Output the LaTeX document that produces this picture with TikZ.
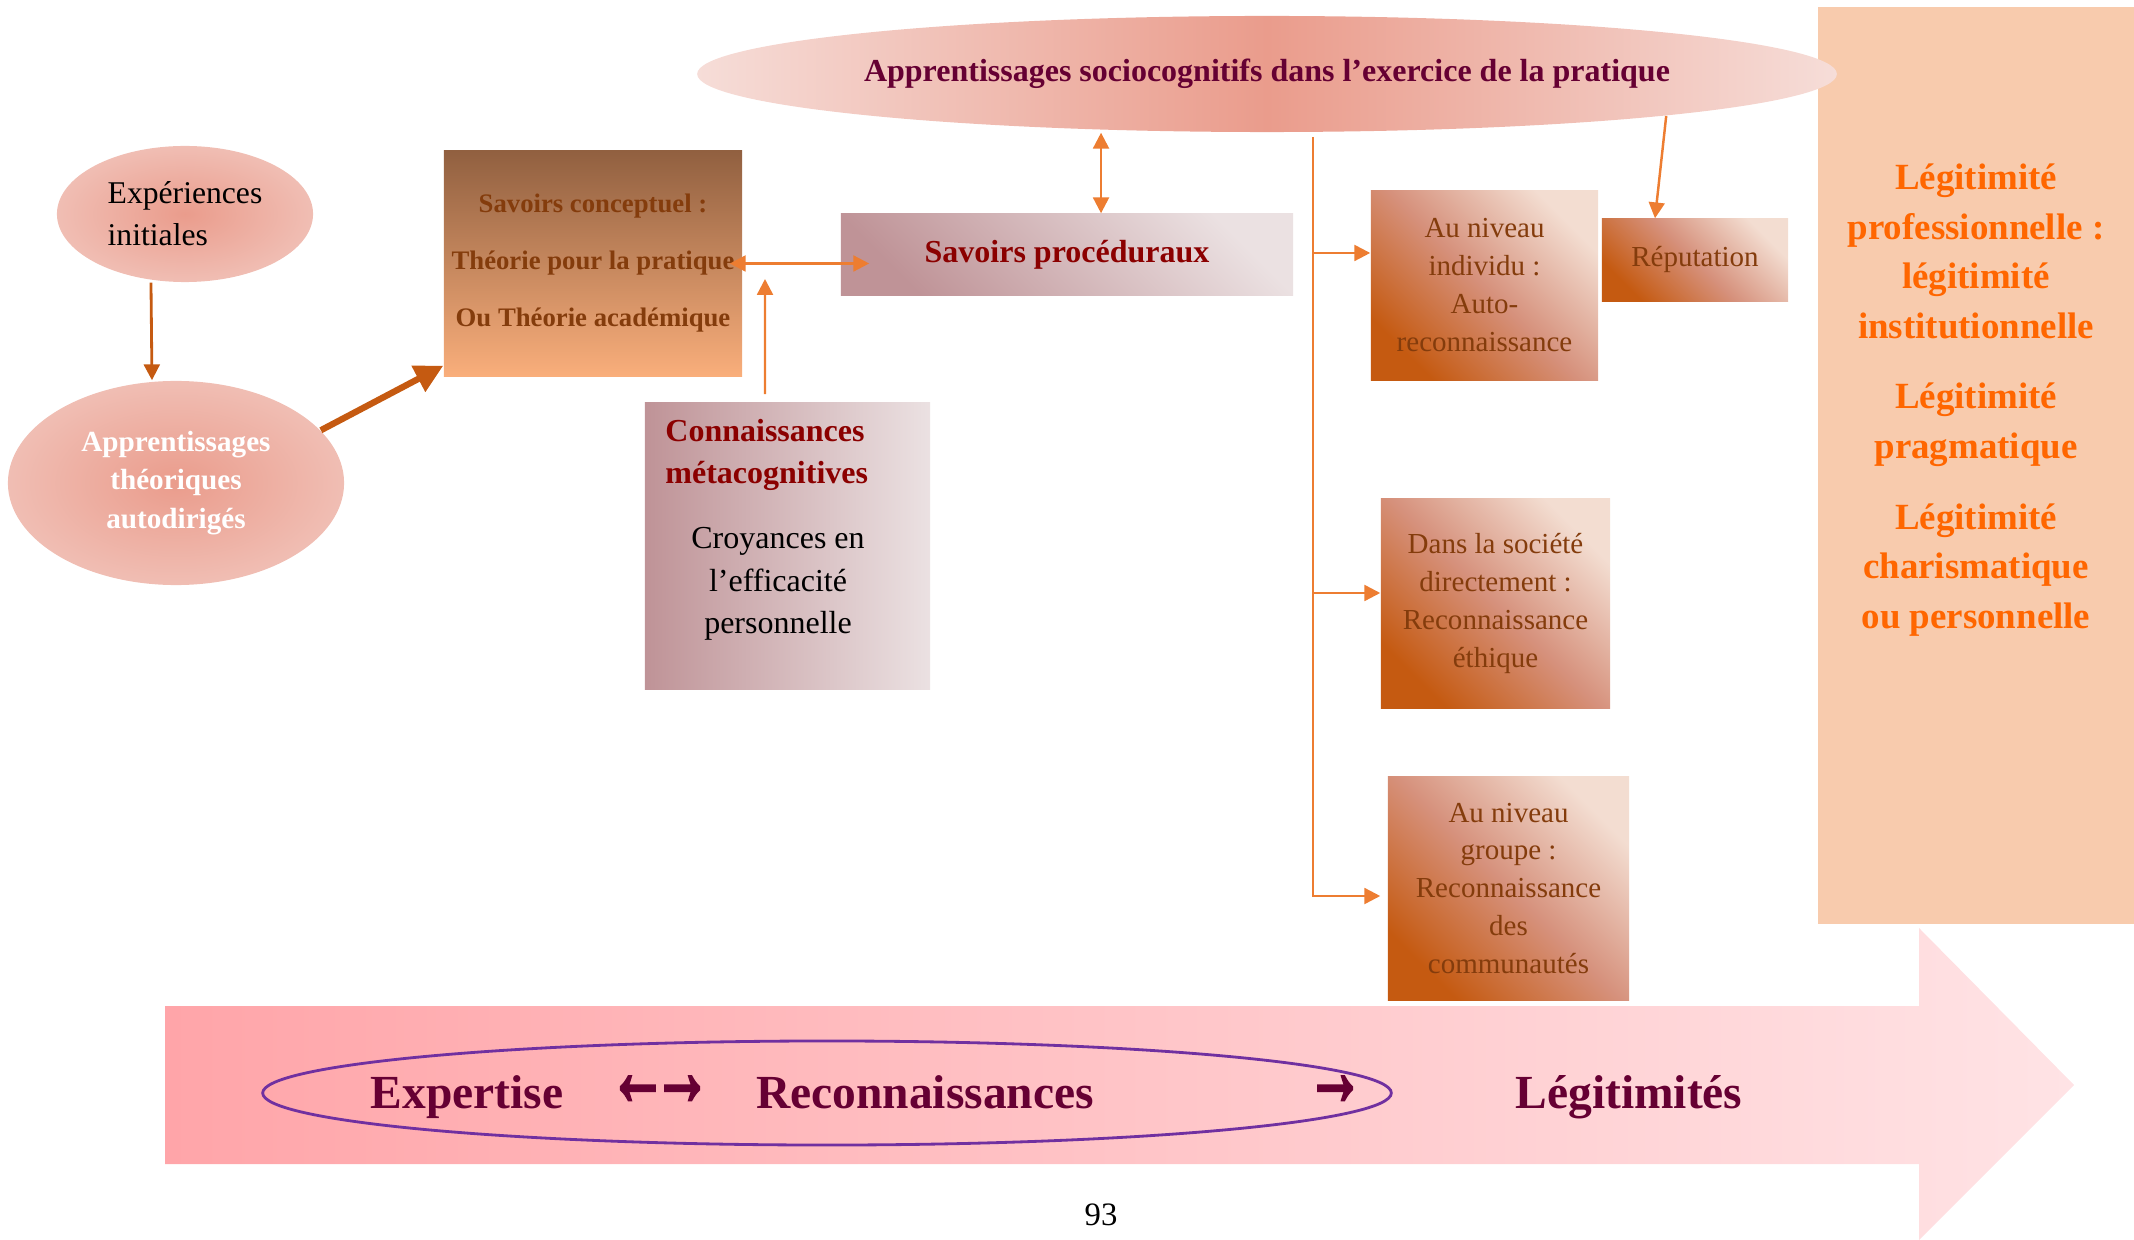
\documentclass[tikz,border=0pt]{standalone}
\usepackage{fontspec}
\setmainfont{Liberation Serif}
\newfontfamily\fleches{Liberation Serif}[FakeBold=4]
\usetikzlibrary{shapes.geometric,arrows.meta}
\definecolor{orangeline}{HTML}{ED7D31}
\definecolor{rust}{HTML}{C55A11}
\definecolor{brunfonce}{HTML}{843C0C}
\definecolor{rougefonce}{HTML}{8B0000}
\definecolor{bordeaux}{HTML}{660033}
\definecolor{orangevif}{HTML}{FF6600}
\definecolor{peche}{HTML}{F8CBAD}
\definecolor{saumon}{HTML}{EA9C8C}
\definecolor{saumonclair}{HTML}{F6DDD8}
\definecolor{violet}{HTML}{7030A0}
\definecolor{roseg}{HTML}{FFA5A9}
\definecolor{rosed}{HTML}{FFE3E5}
\definecolor{brunhaut}{HTML}{916040}
\definecolor{orangebas}{HTML}{F9AE7B}
\definecolor{mauvefonce}{HTML}{BF9397}
\definecolor{mauveclair}{HTML}{EBE1E2}
\definecolor{niveauclair}{HTML}{F3DDD1}
\definecolor{niveaumilieu}{HTML}{D6917C}
\pgfdeclareradialshading{bulleombre}{\pgfpoint{0bp}{0bp}}{color(0bp)=(saumon); color(48bp)=(saumonclair); color(50bp)=(saumonclair)}
\tikzset{
  bulle/.style={ellipse, shading=bulleombre, inner sep=0pt},
  niveau/.style={rectangle, bottom color=rust, top color=niveauclair, middle color=niveaumilieu,
    shading angle=-45, inner sep=0pt, align=center, text=brunfonce,
    font=\fontsize{8.25}{10.8}\selectfont},
  conn/.style={draw=orangeline, line width=0.7pt},
  grand/.style={anchor=base, text=bordeaux, font=\bfseries\fontsize{13.5}{16}\selectfont},
  fleche/.style={anchor=base, text=bordeaux, font=\fleches\fontsize{18}{20}\selectfont}
}

\begin{document}
\begin{tikzpicture}[x=0.01cm, y=-0.01cm, >={Triangle[length=4.5pt,width=4.5pt]}]
  \useasboundingbox (0,0) rectangle (2134,1240);
  % fleche du bas
  \shade[left color=roseg, right color=rosed]
    (165,1006) -- (1919,1006) -- (1919,928) -- (2074,1085) -- (1919,1240) -- (1919,1164) -- (165,1164) -- cycle;
  \draw[violet, line width=0.8pt] (827,1093) ellipse [x radius=5.64cm, y radius=0.52cm];
  \node[grand] (expertise) at (467,1108) {Expertise};
  \node[fleche] (allerretour) at (660,1104) {\scalebox{0.9}[1.5]{←\kern-4pt→}};
  \node[grand] (reco) at (925,1108) {Reconnaissances};
  \node[fleche] (versdroite) at (1335,1104) {\scalebox{0.9}[1.5]{→}};
  \node[grand] (legitimites) at (1629,1108) {Légitimités};

  \node[font=\fontsize{9.3}{11}\selectfont] (page) at (1101,1215) {93};

  \node[fill=peche, minimum width=3.16cm, minimum height=9.17cm, inner sep=0pt] (legit) at (1976,465.5) {};
  \node[align=center, text=orangevif, font=\bfseries\fontsize{10.5}{14.1}\selectfont] (legittxt) at (1976,400)
    {Légitimité\\professionnelle :\\légitimité\\institutionnelle\\[6pt]Légitimité\\pragmatique\\[6pt]Légitimité\\charismatique\\ou personnelle};

  \node[bulle, minimum width=2.56cm, minimum height=1.36cm, align=left, font=\fontsize{9}{12}\selectfont] (exp) at (185,214) {Expériences\\initiales};
  \node[bulle, minimum width=3.36cm, minimum height=2.04cm, align=center, text=white,
    font=\bfseries\fontsize{8.3}{11}\selectfont] (auto) at (176,483) {Apprentissages\\théoriques\\autodirigés};
  \node[rectangle, top color=brunhaut, bottom color=orangebas, minimum width=2.98cm, minimum height=2.25cm,
    inner sep=0pt, align=center, text=brunfonce, font=\bfseries\fontsize{7.6}{16.2}\selectfont] (concept) at (593,263.5)
    {Savoirs conceptuel :\\Théorie pour la pratique\\Ou Théorie académique};
  \node[rectangle, bottom color=mauvefonce, top color=mauveclair, shading angle=-45, minimum width=4.52cm,
    minimum height=0.81cm, inner sep=0pt, text=rougefonce, font=\bfseries\fontsize{9.1}{11}\selectfont] (proc) at (1067,254.5)
    {Savoirs procéduraux};
  \node[rectangle, left color=mauvefonce, right color=mauveclair, minimum width=2.85cm, minimum height=2.86cm,
    inner sep=0pt] (meta) at (787.5,546) {};
  \node[anchor=west, align=left, text=rougefonce, font=\bfseries\fontsize{9.1}{12}\selectfont] (metatitre) at (653,455)
    {Connaissances\\métacognitives};
  \node[align=center, font=\fontsize{9.1}{12}\selectfont] (metacroy) at (778,584) {Croyances en\\l’efficacité\\personnelle};

  \node[ellipse, left color=saumonclair, right color=saumonclair, middle color=saumon, minimum width=11.14cm,
    minimum height=1.16cm, inner sep=0pt, text=bordeaux, font=\bfseries\fontsize{9.1}{11}\selectfont] (sociocog) at (1267,74)
    {Apprentissages sociocognitifs dans l’exercice de la pratique};

  \node[niveau, minimum width=2.27cm, minimum height=1.89cm] (indiv) at (1484.5,285.5) {Au niveau\\individu :\\Auto-\\reconnaissance};
  \node[niveau, minimum width=1.86cm, minimum height=0.82cm] (reput) at (1695,260) {Réputation};
  \node[niveau, minimum width=2.29cm, minimum height=2.09cm] (societe) at (1495.5,603.5) {Dans la société\\directement :\\Reconnaissance\\éthique};
  \node[niveau, minimum width=2.41cm, minimum height=2.23cm] (groupe) at (1508.5,888.5) {Au niveau\\groupe :\\Reconnaissance\\des\\communautés};

  % liaisons
  \draw[rust, line width=0.8pt, ->] ([xshift=-0.34cm]exp.south) -- ([xshift=-0.24cm]auto.north);
  \draw[rust, line width=1.8pt, -{Triangle[length=8pt,width=8pt]}] (auto.20) -- ([yshift=0.11cm]concept.south west);
  \draw[conn, <->] ([xshift=-0.13cm]concept.east) -- ([xshift=0.29cm]concept.east -| proc.west);
  \coordinate (croisement) at (765,279);
  \draw[conn, ->] ([xshift=-0.225cm,yshift=0.08cm]meta.north) -- (croisement);
  \draw[conn, <->] ([xshift=0.34cm]proc.north) -- ([xshift=0.34cm]proc.north |- sociocog.south);
  \draw[conn, ->] (sociocog.-6.5) -- ([xshift=-0.4cm]reput.north);
  \coordinate (tronc) at (1313,137);
  \draw[conn, ->] (tronc) |- ([xshift=-0.07cm,yshift=-0.075cm]groupe.west);
  \draw[conn, ->] ([yshift=0.325cm]indiv.west -| tronc) -- ([yshift=0.325cm]indiv.west);
  \draw[conn, ->] ([yshift=0.105cm]societe.west -| tronc) -- ([yshift=0.105cm]societe.west);
\end{tikzpicture}
\end{document}
